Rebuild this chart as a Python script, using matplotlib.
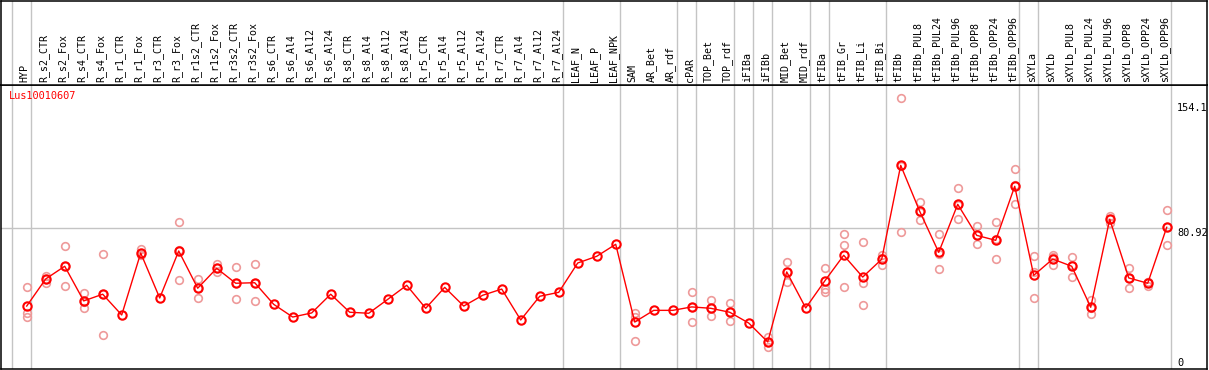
import numpy as np
import matplotlib
matplotlib.use('Agg')
import matplotlib.pyplot as plt

labels = ['HYP', 'R_s2_CTR', 'R_s2_Fox', 'R_s4_CTR', 'R_s4_Fox', 'R_r1_CTR', 'R_r1_Fox',
          'R_r3_CTR', 'R_r3_Fox', 'R_r1s2_CTR', 'R_r1s2_Fox', 'R_r3s2_CTR', 'R_r3s2_Fox',
          'R_s6_CTR', 'R_s6_Al4', 'R_s6_Al12', 'R_s6_Al24', 'R_s8_CTR', 'R_s8_Al4',
          'R_s8_Al12', 'R_s8_Al24', 'R_r5_CTR', 'R_r5_Al4', 'R_r5_Al12', 'R_r5_Al24',
          'R_r7_CTR', 'R_r7_Al4', 'R_r7_Al12', 'R_r7_Al24', 'LEAF_N', 'LEAF_P', 'LEAF_NPK',
          'SAM', 'AR_Bet', 'AR_rdf', 'cPAR', 'TOP_Bet', 'TOP_rdf', 'iFIBa', 'iFIBb',
          'MID_Bet', 'MID_rdf', 'tFIBa', 'tFIB_Gr', 'tFIB_Li', 'tFIB_Bi', 'tFIBb',
          'tFIBb_PUL8', 'tFIBb_PUL24', 'tFIBb_PUL96', 'tFIBb_OPP8', 'tFIBb_OPP24',
          'tFIBb_OPP96', 'sXYLa', 'sXYLb', 'sXYLb_PUL8', 'sXYLb_PUL24', 'sXYLb_PUL96',
          'sXYLb_OPP8', 'sXYLb_OPP24', 'sXYLb_OPP96']

means = [35.6, 51.4, 58.8, 38.6, 42.5, 30.4, 66.5, 40.3, 67.7, 46.0, 57.6, 48.9, 49.2,
         36.6, 29.2, 31.6, 42.5, 32.0, 31.4, 39.5, 47.7, 34.3, 46.5, 35.6, 41.9, 45.5,
         27.5, 41.3, 43.6, 60.7, 64.6, 71.6, 26.3, 33.1, 33.1, 35.1, 34.3, 32.0, 25.7,
         14.7, 55.5, 34.5, 50.2, 65.2, 52.5, 62.9, 117.6, 90.8, 66.9, 94.9, 76.8, 73.9,
         105.4, 53.5, 63.0, 58.8, 34.9, 86.2, 52.0, 48.9, 81.5]

reps = [[46.5, 31.7, 29.4], [53.4, 51.4, 49.3], [70.4, 58.8, 47.1], [43.2, 38.1, 34.3],
        [65.9, 42.6, 18.7], [], [68.7, 65.7, 65.2], [], [84.4, 68.0, 50.6],
        [51.4, 46.3, 40.1], [59.9, 57.6, 55.3], [58.2, 48.9, 39.5], [60.1, 49.2, 38.4],
        [], [], [], [], [], [], [], [], [], [], [], [], [], [], [], [], [], [], [],
        [31.6, 29.4, 15.2], [], [], [43.6, 35.1, 26.1], [39.0, 34.3, 29.6],
        [37.4, 32.0, 26.7], [], [17.4, 14.7, 11.9], [61.1, 55.5, 49.4], [],
        [57.6, 45.4, 44.0], [77.4, 71.0, 46.5], [72.8, 49.2, 36.0], [65.4, 63.6, 59.5],
        [156.7, 117.5, 78.6], [96.3, 90.4, 85.9], [77.6, 66.1, 57.0], [104.2, 94.5, 86.2],
        [82.1, 76.8, 71.6], [84.4, 74.5, 62.9], [115.3, 106.0, 94.9], [64.8, 55.6, 40.1],
        [65.4, 64.2, 59.5], [64.4, 59.5, 52.4], [39.1, 34.5, 31.2], [88.3, 86.3, 83.8],
        [57.8, 52.1, 46.0], [49.6, 49.5, 47.5], [91.4, 81.7, 71.4]]

# group separators (after these columns)
groups = [-1, 0, 28, 31, 34, 35, 37, 38, 39, 41, 42, 45, 52, 53, 60]
ref_line = 80.92
gene = 'Lus10010607'

W, H = 1209, 370
fig = plt.figure(figsize=(W / 100, H / 100), dpi=100)
ax = fig.add_axes([1 / W, 1 / H, 1206 / W, 284 / H])
hx = fig.add_axes([1 / W, (H - 85) / H, 1206 / W, 84.5 / H])

x = np.arange(len(labels))
xl = (-1.353, 62.12)
grey = '#c4c4c4'
mono = 'DejaVu Sans Mono'

for a in (ax, hx):
    a.set_xlim(*xl)
    a.set_xticks([])
    a.set_yticks([])
    for s in a.spines.values():
        s.set_linewidth(1.1)
        s.set_color('black')
    for g in groups:
        a.axvline(g + 0.2, color=grey, lw=1.0, zorder=0)

hx.set_ylim(0, 1)
for i, lab in enumerate(labels):
    hx.text(i - 0.1, 0.03, lab, rotation=90, ha='center', va='bottom',
            fontsize=7.2, family=mono)

ax.set_ylim(-1.08, 164.43)
ax.plot([xl[0], 60.2], [ref_line, ref_line], color=grey, lw=1.0, zorder=0)

rx = [i for i, r in enumerate(reps) for _ in r]
ry = [v for r in reps for v in r]
ax.plot(rx, ry, 'o', ms=5.5, mfc='none', mec='#ee9a9a', mew=1.2, zorder=2)
ax.plot(x, means, '-', color='red', lw=1.0, zorder=3)
ax.plot(x, means, 'o', ms=6, mfc='none', mec='red', mew=1.5, zorder=4)

ax.text(8 / 1206, (369 - 91) / 284, gene, color='red', fontsize=7.4,
        family=mono, ha='left', va='top', transform=ax.transAxes)
tx = (1177 - 1) / 1206
ax.text(tx, 154.1, '154.1', fontsize=7.4, family=mono, ha='left', va='top',
        transform=ax.get_yaxis_transform())
ax.text(tx, ref_line, '80.92', fontsize=7.4, family=mono, ha='left', va='top',
        transform=ax.get_yaxis_transform())
ax.text(tx, (369 - 358) / 284, '0', fontsize=7.4, family=mono, ha='left', va='top',
        transform=ax.transAxes)

fig.savefig('out.png', dpi=100)
